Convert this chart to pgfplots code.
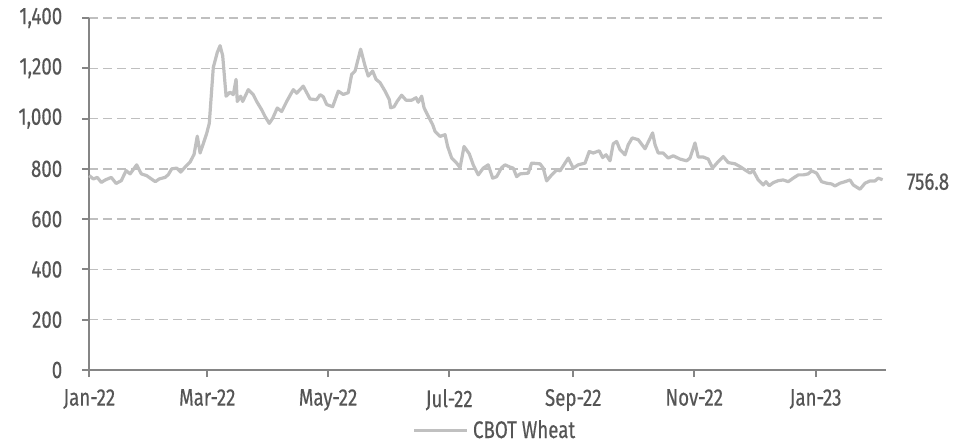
\documentclass[border=0pt]{standalone}
\usepackage{fontspec}
\setmainfont{Fira Sans}[FakeStretch=0.78, FakeBold=0.4]
\usepackage{pgfplots}
\pgfplotsset{compat=1.18}
\usetikzlibrary{calc}
\definecolor{textgray}{HTML}{555555}
\definecolor{axisgray}{HTML}{858585}
\definecolor{gridgray}{HTML}{BFBFBF}
\definecolor{linegray}{HTML}{C0C0C0}
\begin{document}
\begin{tikzpicture}
\begin{axis}[
  name=ax, scale only axis, width=398.35pt, height=176pt,
  xmin=0, xmax=398.4, ymin=0, ymax=1400,
  clip=false,
  xtick={0,59,119.4,180,242,302.5,363.2},
  xticklabels={Jan-22,Mar-22,May-22,Jul-22,Sep-22,Nov-22,Jan-23},
  ytick={0,200,...,1400},
  /pgf/number format/.cd, 1000 sep={,}, assume math mode=true, /pgfplots/.cd,
  ymajorgrids, grid style={gridgray, line width=0.75pt, dash pattern=on 4.3pt off 2.7pt},
  axis x line*=bottom, axis y line*=left,
  axis line style={-},
  x axis line style={draw=axisgray, line width=1.2pt},
  y axis line style={draw=axisgray, line width=1pt},
  tick align=outside, major tick length=3.5pt,
  tick style={axisgray, line width=1pt},
  ticklabel style={font=\fontsize{12}{14}\selectfont, text=textgray},
  yticklabel style={xshift=-6.5pt},
  xticklabel style={yshift=-2.5pt},
  legend style={at={(0.5105,-0.172)}, anchor=center, draw=none, fill=none,
    inner sep=0pt, font=\fontsize{12}{14}\selectfont, text=textgray},
  legend image code/.code={\draw[#1] (0pt,0pt) -- (26.5pt,0pt);},
]
\addplot[linegray, line width=1.6pt, line join=round, no markers] coordinates {
(0,773) (2,760) (4,766) (6,746) (8,756) (11,766) (13.4,742) (16,753) (18.4,793)
(20.4,780) (23.7,816) (26,780) (28.7,773) (31,760) (33,749) (35,760) (37.9,766)
(39.5,777) (41.2,800) (43.7,803) (45.7,787) (47.9,807) (50.4,827) (52.4,858)
(54,930) (55.4,863) (57,900) (58.7,941) (60,981) (62,1203) (64,1263) (65.4,1290)
(66.7,1250) (68.4,1089) (70.4,1105) (72,1095) (73.4,1156) (74,1068) (75.7,1089)
(76.7,1068) (79.5,1115) (82,1095) (83.7,1068) (86.2,1035) (87.9,1008) (90,981)
(91.7,1001) (94,1042) (96.2,1028) (98.7,1068) (102,1115) (103.7,1101) (107,1129)
(110.4,1078) (113.7,1075) (115.4,1095) (117,1087) (118.7,1056) (121.7,1047)
(124.5,1109) (127,1096) (129.5,1103) (131.2,1176) (132.9,1189) (135.7,1276)
(137.9,1209) (139.5,1169) (141.7,1189) (143.4,1156) (145.4,1143) (147.9,1109)
(150,1076) (150.7,1043) (152.4,1047) (154,1069) (156.2,1093) (158.4,1073)
(161.2,1073) (163.4,1083) (164.5,1065) (166.2,1089) (167.4,1043) (169.5,1009)
(171.7,976) (172.9,949) (175.4,929) (177.9,936) (179.2,889) (181.2,843)
(183.7,823) (185.4,805) (187.4,889) (190,860) (192,816) (194.5,776) (197,803)
(199.5,816) (201.7,763) (203.7,769) (206.2,805) (207.9,816) (210.4,807) (212,803)
(213.7,769) (215.4,780) (219.5,783) (221.2,823) (225.4,820) (227,803) (228.7,752)
(231.2,776) (233.7,796) (235.4,792) (239.5,843) (242,803) (244.5,816) (247.9,823)
(250,869) (252,863) (255,872) (256.7,845) (258.4,856) (260.4,832) (262,900)
(263.7,909) (265.4,876) (267.9,856) (269.5,896) (271.5,923) (274.5,916)
(277.9,880) (281.7,943) (282.9,896) (284.5,863) (287,863) (289.5,843) (292,852)
(295.4,839) (298.7,832) (300.4,843) (302.9,903) (304.5,847) (307,847) (309.5,839)
(311.7,803) (314.5,829) (317,849) (319.5,825) (322.9,820) (325.4,809) (327.9,796)
(330.4,783) (332,793) (334.5,756) (337,736) (338.4,749) (340,733) (342,745)
(344.5,753) (347,756) (349.5,749) (352,763) (354.5,776) (357,776) (359.5,780)
(361.2,792) (363.7,783) (366.2,749) (368.7,743) (371.2,740) (372.9,732)
(375.4,743) (377.9,749) (380.4,756) (382,736) (385.4,719) (387.9,743) (390.4,752)
(392.9,752) (394.5,763) (396.7,756.8)
};
\addlegendentry{CBOT Wheat}
\node[anchor=west, inner sep=0pt, font=\fontsize{12}{14}\selectfont, text=textgray, xshift=12pt, yshift=-1pt] at (axis cs:396.7,756.8) {756.8};
\end{axis}
\pgfresetboundingbox
\path ($(ax.south west)+(-44.65pt,-38pt)$) rectangle ($(ax.north east)+(45.5pt,9pt)$);
\end{tikzpicture}
\end{document}
